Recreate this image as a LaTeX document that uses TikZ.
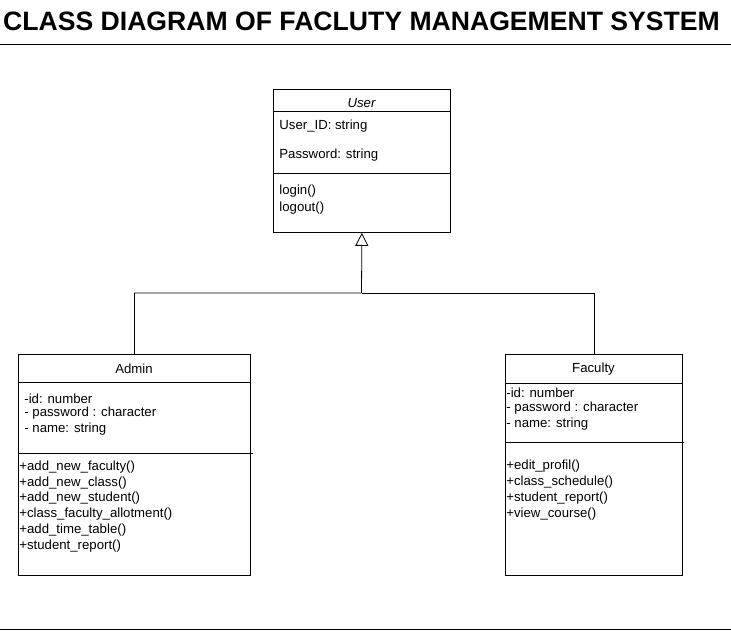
\documentclass[tikz,border=0pt]{standalone}
\usepackage{fontspec}
\setmainfont{Liberation Sans}
\usetikzlibrary{arrows.meta}
\begin{document}
\begin{tikzpicture}[x=1pt, y=-1pt, line width=0.8pt,
    class box/.style={draw, anchor=north west, inner sep=0pt},
    member/.style={anchor=west, inner sep=0pt, yshift=-1.5pt, font=\fontsize{13.2}{15}\selectfont},
    head/.style={inner sep=0pt, yshift=-1pt, font=\fontsize{13.2}{15}\selectfont}]
  \useasboundingbox (0,0) rectangle (731,631);

  \node[inner sep=0pt, font=\fontsize{26.6}{30}\selectfont\bfseries] (title) at (361.5,21) {CLASS DIAGRAM OF FACLUTY MANAGEMENT SYSTEM};
  \draw (0,44) -- (731,44);
  \draw (0,629) -- (731,629);

  % User
  \node[class box, minimum width=177pt, minimum height=143pt] (user) at (273,89) {};
  \draw (273,111) -- (450,111);
  \draw (273,173) -- (450,173);
  \node[head] (u0) at (361.5,102) {\itshape User};
  \node[member] (u1) at (279,125) {User\_ID: string};
  \node[member] (u2) at (279,154) {Password: string};
  \node[member] (u3) at (279,190) {login()};
  \node[member] (u4) at (279,207) {logout()};

  % Admin
  \node[class box, minimum width=232pt, minimum height=221pt] (admin) at (18,354) {};
  \draw (18,382) -- (250,382);
  \draw (18,453) -- (253,453);
  \node[head] (a0) at (134,368) {Admin};
  \node[member] (a1) at (24,397) {-id: number};
  \node[member] (a2) at (24,412) {- password : character};
  \node[member] (a3) at (24,428) {- name: string};
  \node[member] (a4) at (19,466) {+add\_new\_faculty()};
  \node[member] (a5) at (19,482) {+add\_new\_class()};
  \node[member] (a6) at (19,497) {+add\_new\_student()};
  \node[member] (a7) at (19,513) {+class\_faculty\_allotment()};
  \node[member] (a8) at (19,529) {+add\_time\_table()};
  \node[member] (a9) at (19,545) {+student\_report()};

  % Faculty
  \node[class box, minimum width=177pt, minimum height=221pt] (faculty) at (505,354) {};
  \draw (505,383) -- (682,383);
  \draw (505,442) -- (684,442);
  \node[head] (f0) at (593.5,368) {Faculty};
  \node[member] (f1) at (506,391) {-id: number};
  \node[member] (f2) at (506,407) {- password : character};
  \node[member] (f3) at (506,423) {- name: string};
  \node[member] (f4) at (506,465) {+edit\_profil()};
  \node[member] (f5) at (506,481) {+class\_schedule()};
  \node[member] (f6) at (506,497) {+student\_report()};
  \node[member] (f7) at (506,513) {+view\_course()};

  % inheritance
  \coordinate (bus) at (361.5,293);
  \draw[-{Triangle[open, length=13pt, width=13pt]}] (admin.north) |- (bus) -- (user.south);
  \draw (faculty.north) |- (bus);
\end{tikzpicture}
\end{document}
